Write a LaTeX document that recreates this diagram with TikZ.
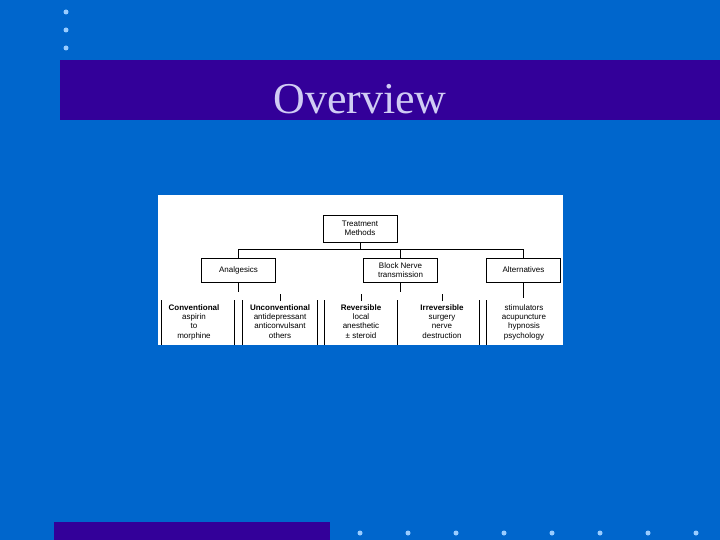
\documentclass[tikz,border=0pt]{standalone}
\usepackage{fontspec}
\setmainfont{Liberation Serif}
\setsansfont{Liberation Sans}
\definecolor{slideblue}{HTML}{0066CC}
\definecolor{titlebar}{HTML}{330099}
\definecolor{dotblue}{HTML}{99CCFF}
\definecolor{titletext}{HTML}{D0CCF4}
\begin{document}
\begin{tikzpicture}[x=1pt, y=-1pt, line width=0.8pt]
% define node styles
\tikzstyle{every node} = [inner sep=0pt, align=center, font=\sffamily\fontsize{8}{9.4}\selectfont]
\tikzstyle{box}        = [draw, rectangle, minimum width=74pt, minimum height=24pt]
\tikzstyle{bullet}     = [circle, fill=dotblue, minimum size=5pt]
\tikzstyle{column}     = [anchor=north]

% slide background
\fill[slideblue] (0,0) rectangle (720,540);
\fill[titlebar] (60,60) rectangle (720,120);
\fill[titlebar] (54,522) rectangle (330,540);
\node[font=\rmfamily\fontsize{44}{48}\selectfont, text=titletext] (title) at (360,99) {Overview};

% bullets
\foreach \n/\y in {1/12, 2/30, 3/48}
    \node[bullet] (b\n) at (66,\y) {};
\foreach \n in {0,...,7}
    \node[bullet] (d\n) at (360+48*\n,533) {};

% diagram panel
\fill[white] (158,195) rectangle (563,345);

% box nodes
\node[box, minimum height=27pt] (treat) at (360,228.5) {Treatment\\Methods};
\foreach \v/\x/\t in {anal/238.5/Analgesics, block/400.5/{Block Nerve\\transmission}, alt/523.5/Alternatives}
    \node[box] (\v) at (\x,270) {\t};

% column nodes
\foreach \v/\x/\t in {conv/194/{\textbf{Conventional}\\aspirin\\to\\morphine},
                      unconv/280/{\textbf{Unconventional}\\antidepressant\\anticonvulsant\\others},
                      rev/361/{\textbf{Reversible}\\local\\anesthetic\\± steroid},
                      irrev/442/{\textbf{Irreversible}\\surgery\\nerve\\destruction},
                      stim/524/{stimulators\\acupuncture\\hypnosis\\psychology}}
    \node[column] (\v) at (\x,304) {\t};

% edges
\coordinate (bar) at (0,249);
\coordinate (stemend) at (0,292);
\coordinate (altend) at (0,298);
\foreach \to in {anal, block, alt}
    \draw (treat.south) -- (treat.south |- bar) -| (\to.north);
\foreach \from in {anal, block}
    \draw (\from.south) -- (\from.south |- stemend);
\draw (alt.south) -- (alt.south |- altend);
\foreach \to in {unconv, rev, irrev}
    \draw ([yshift=3pt]\to.north) -- ([yshift=10pt]\to.north);

% column rules
\foreach \x in {161, 234, 242, 317, 324, 397, 479, 486}
    \draw (\x,300) -- (\x,345);

\end{tikzpicture}
\end{document}
